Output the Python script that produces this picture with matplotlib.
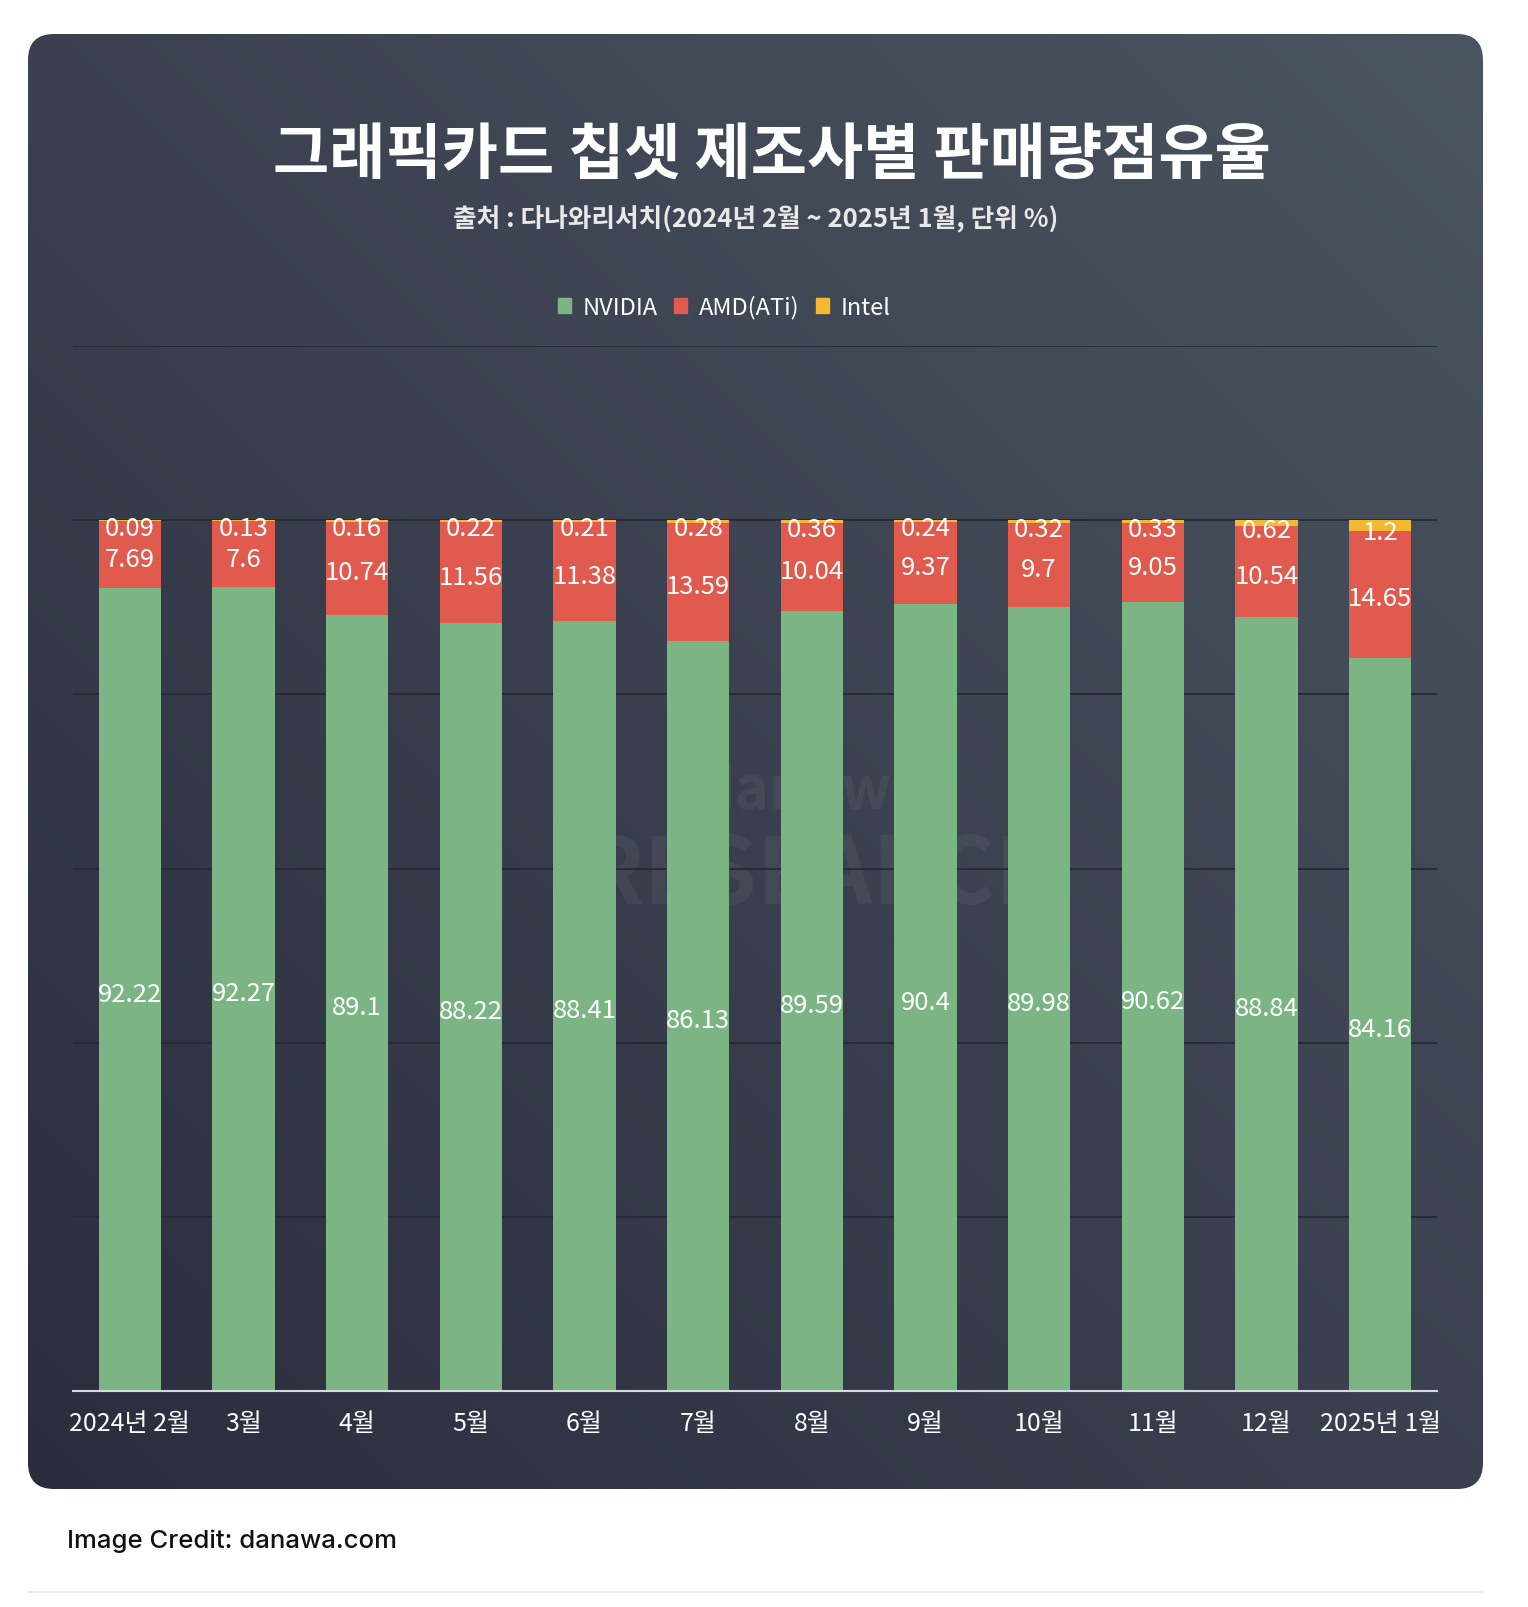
import numpy as np
import matplotlib
matplotlib.use("Agg")
import matplotlib.pyplot as plt
from matplotlib.patches import FancyBboxPatch, Patch

plt.rcParams['font.family'] = ['Noto Sans CJK KR', 'DejaVu Sans']

# ---------------- data ----------------
months = ["2024년 2월", "3월", "4월", "5월", "6월", "7월", "8월", "9월",
          "10월", "11월", "12월", "2025년 1월"]
nvidia = [92.22, 92.27, 89.1, 88.22, 88.41, 86.13, 89.59, 90.4, 89.98, 90.62, 88.84, 84.16]
amd = [7.69, 7.6, 10.74, 11.56, 11.38, 13.59, 10.04, 9.37, 9.7, 9.05, 10.54, 14.65]
intel = [0.09, 0.13, 0.16, 0.22, 0.21, 0.28, 0.36, 0.24, 0.32, 0.33, 0.62, 1.2]
series_names = ["NVIDIA", "AMD(ATi)", "Intel"]
title = "그래픽카드 칩셋 제조사별 판매량점유율"
subtitle = "출처 : 다나와리서치(2024년 2월 ~ 2025년 1월, 단위 %)"
credit = "Image Credit: danawa.com"

C_GREEN = "#7bb583"
C_RED = "#e05a4e"
C_YEL = "#f4b931"

W, H = 1528, 1608
fig = plt.figure(figsize=(W / 100, H / 100), dpi=100)
fig.patch.set_facecolor("white")

# ---------------- background panel ----------------
bg = fig.add_axes([0, 0, 1, 1])
bg.set_xlim(0, W)
bg.set_ylim(H, 0)
bg.axis("off")
px0, py0, pw, ph = 28, 35, 1455, 1455
n = 300
xx, yy = np.meshgrid(np.linspace(0, 1, n), np.linspace(0, 1, n))
t = (xx + (1 - yy)) / 2.0
dark = np.array([42, 45, 62]) / 255
light = np.array([75, 84, 97]) / 255
img = dark[None, None, :] + t[..., None] * (light - dark)[None, None, :]
im = bg.imshow(img, extent=(px0, px0 + pw, py0 + ph, py0), interpolation="bilinear",
               aspect="auto", zorder=0)
clip = FancyBboxPatch((px0, py0), pw, ph, boxstyle="round,pad=0,rounding_size=26",
                      transform=bg.transData, facecolor="none", edgecolor="none")
im.set_clip_path(clip)
bg.plot([28, 1483], [1593, 1593], color="#eeeeee", lw=1.5)

fig.text(772 / W, 1 - 156 / H, title,
         color="white", fontsize=44, fontweight="bold", ha="center", va="center")
fig.text(756 / W, 1 - 220 / H, subtitle, color="#e8e8e8", fontsize=18.5,
         fontweight="bold", ha="center", va="center")
fig.text(67 / W, 1 - 1541 / H, credit, color="#111111", fontsize=18.5,
         ha="left", va="center", family=["Inter", "DejaVu Sans"], fontweight="medium")

# ---------------- chart ----------------
ax = fig.add_axes([73 / W, (H - 1392) / H, 1364 / W, 1045 / H])
ax.set_facecolor("none")
x = np.arange(len(months))
bw = 0.55
bot2 = np.array(nvidia)
bot3 = bot2 + np.array(amd)
ax.bar(x, nvidia, bw, color=C_GREEN, zorder=2)
ax.bar(x, amd, bw, bottom=bot2, color=C_RED, zorder=2)
ax.bar(x, intel, bw, bottom=bot3, color=C_YEL, zorder=2)

ax.set_xlim(-0.5, len(months) - 0.5)
ax.set_ylim(0, 120)
ax.set_yticks(np.arange(0, 121, 20))
ax.set_yticklabels([])
ax.yaxis.grid(True, color="#262a35", lw=1.3)
ax.set_axisbelow(True)
for s in ["top", "left", "right"]:
    ax.spines[s].set_visible(False)
ax.spines["bottom"].set_color("#d5d8de")
ax.spines["bottom"].set_linewidth(1.5)
ax.spines["bottom"].set_zorder(3)
ax.tick_params(length=0)
ax.set_xticks(x)
ax.set_xticklabels(months, color="white", fontsize=18)
ax.tick_params(axis="x", pad=14)

# watermark
ax.text(6.0, 65.5, "danawa", color="white", alpha=0.05, fontsize=42, fontweight="bold",
        ha="center", va="bottom", zorder=0.3)
ax.text(6.1, 64.5, "RESEARCH", color="white", alpha=0.05, fontsize=66, fontweight="bold",
        ha="center", va="top", zorder=0.3)

lab_kw = dict(color="white", fontsize=18.5, ha="center", va="center", zorder=4,
              textcoords="offset points")
for i in range(len(months)):
    ax.annotate(f"{nvidia[i]:g}", (x[i], nvidia[i] / 2), xytext=(0, -3), **lab_kw)
    ax.annotate(f"{amd[i]:g}", (x[i], bot2[i] + amd[i] / 2), xytext=(0, -3), **lab_kw)
    ax.annotate(f"{intel[i]:g}", (x[i], bot3[i] + intel[i] / 2), xytext=(0, -5), **lab_kw)

handles = [Patch(color=c) for c in [C_GREEN, C_RED, C_YEL]]
fig.legend(handles, series_names, loc="center", bbox_to_anchor=(724 / W, 1 - 308 / H),
           ncol=3, frameon=False, fontsize=17, labelcolor="white",
           handlelength=0.55, handleheight=0.55, handletextpad=0.5, columnspacing=0.7)

fig.savefig("out.png", dpi=100, facecolor="white")
